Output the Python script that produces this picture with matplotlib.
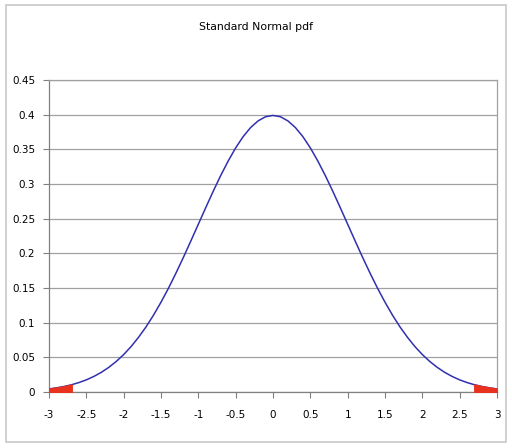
import matplotlib.pyplot as plt
import numpy as np
from matplotlib.patches import Rectangle
from matplotlib.ticker import FuncFormatter, MultipleLocator

# values (x step 0.1)
z_values = [round(-3.0 + 0.1 * i, 1) for i in range(61)]
left_half = [0.0044, 0.0060, 0.0079, 0.0104, 0.0136, 0.0175, 0.0224, 0.0283,
             0.0355, 0.0440, 0.0540, 0.0656, 0.0790, 0.0940, 0.1109, 0.1295,
             0.1497, 0.1714, 0.1942, 0.2179, 0.2420, 0.2661, 0.2897, 0.3123,
             0.3332, 0.3521, 0.3683, 0.3814, 0.3910, 0.3970]
peak = 0.3989
pdf_values = left_half + [peak] + left_half[::-1]
tail_cut = 2.7

title = "Standard Normal pdf"


def main() -> None:
    plt.rcParams["font.family"] = ["DejaVu Sans"]
    x = np.array(z_values)
    y = np.array(pdf_values)

    fig = plt.figure(figsize=(5.12, 4.48), dpi=100)
    fig.patch.set_facecolor("white")
    fig.patches.append(Rectangle((6 / 512, 6 / 448), 500 / 512, 437 / 448,
                                 transform=fig.transFigure, fill=False,
                                 edgecolor="#c8c8c8", linewidth=1.2))

    ax = fig.add_axes([49 / 512, 1 - 392 / 448, 448 / 512, 312 / 448])
    ax.set_facecolor("white")

    ax.plot(x, y, color="#3030b0", linewidth=1.1, zorder=3)
    lo = x <= -tail_cut + 1e-9
    hi = x >= tail_cut - 1e-9
    ax.fill_between(x[lo], 0, y[lo], facecolor="#e8321e", edgecolor="#e8321e",
                    linewidth=1.5, zorder=4)
    ax.fill_between(x[hi], 0, y[hi], facecolor="#e8321e", edgecolor="#e8321e",
                    linewidth=1.5, zorder=4)

    ax.set_xlim(-3, 3)
    ax.set_ylim(0, 0.45)
    ax.xaxis.set_major_locator(MultipleLocator(0.5))
    ax.yaxis.set_major_locator(MultipleLocator(0.05))
    fmt = FuncFormatter(lambda v, p: f"{round(v, 2):g}")
    ax.xaxis.set_major_formatter(fmt)
    ax.yaxis.set_major_formatter(fmt)

    ax.grid(True, axis="y", color="#a0a0a0", linewidth=0.9)
    ax.set_axisbelow(True)
    for s in ax.spines.values():
        s.set_color("#a0a0a0")
        s.set_linewidth(0.9)
    ax.spines["left"].set_color("#808080")
    ax.spines["bottom"].set_color("#808080")
    ax.tick_params(direction="out", length=4, width=0.8, color="#808080",
                   labelsize=7.5, pad=6)
    ax.tick_params(axis="x", pad=9)

    fig.text(0.5, 1 - 27 / 448, title, ha="center", va="center", fontsize=7.8)

    fig.savefig("out.png", dpi=100, facecolor="white")
    plt.close(fig)


if __name__ == "__main__":
    main()
